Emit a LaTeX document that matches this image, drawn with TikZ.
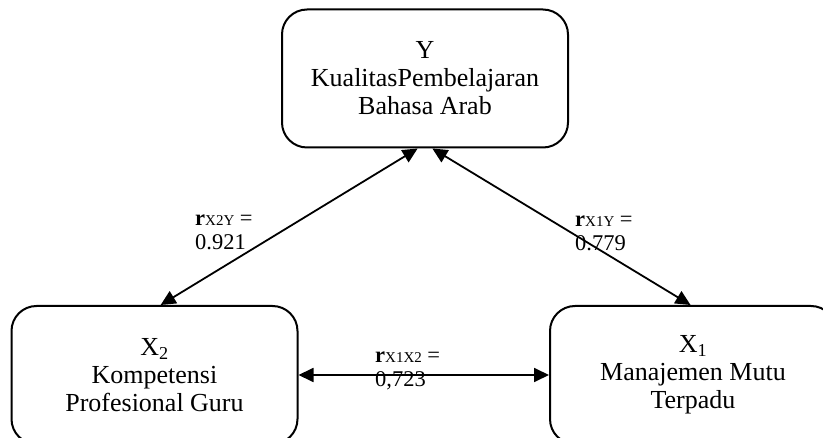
\documentclass[tikz,border=0pt]{standalone}
\usepackage{fontspec}
\setmainfont{Liberation Serif}
\usetikzlibrary{arrows.meta,positioning}

\begin{document}
\begin{tikzpicture}[x=1pt,y=-1pt,
    every node/.style={font=\fontsize{26}{28}\selectfont},
    varbox/.style={draw,rounded corners=25pt,line width=2pt,minimum width=286pt,minimum height=138pt,align=center,inner sep=0pt},
    corlab/.style={anchor=north west,align=left,inner sep=0pt,font=\fontsize{22.5}{24}\selectfont},
    corr/.style={line width=1.8pt,{Triangle[length=15pt,width=14pt]}-{Triangle[length=15pt,width=14pt]}}
    ]
    \clip (0,0) rectangle (823,438);

    % the variables
    \node (yq) [varbox] at (425,78.5) {Y\\KualitasPembelajaran\\Bahasa Arab};
    \node (x2q) [varbox] at (154.5,375) {X\textsubscript{2}\\Kompetensi\\Profesional Guru};
    \node (x1q) [varbox] at (693,375) {X\textsubscript{1}\\Manajemen Mutu\\Terpadu};

    % the correlations
    \node (rx2y) [corlab] at (195,215) {\textbf{r}{\fontsize{15}{15}\selectfont X2Y} =\\0.921};
    \node (rx1y) [corlab] at (575,216) {\textbf{r}{\fontsize{15}{15}\selectfont X1Y} =\\0.779};
    \node (rx1x2) [corlab] at (375,352) {\textbf{r}{\fontsize{15}{15}\selectfont X1X2} =\\0,723};

    % the edges
    \draw [corr] (yq.264) -- (x2q.85);
    \draw [corr] (yq.276) -- (x1q.92);
    \draw [corr] (x2q.east) -- (x1q.west);
\end{tikzpicture}
\end{document}
